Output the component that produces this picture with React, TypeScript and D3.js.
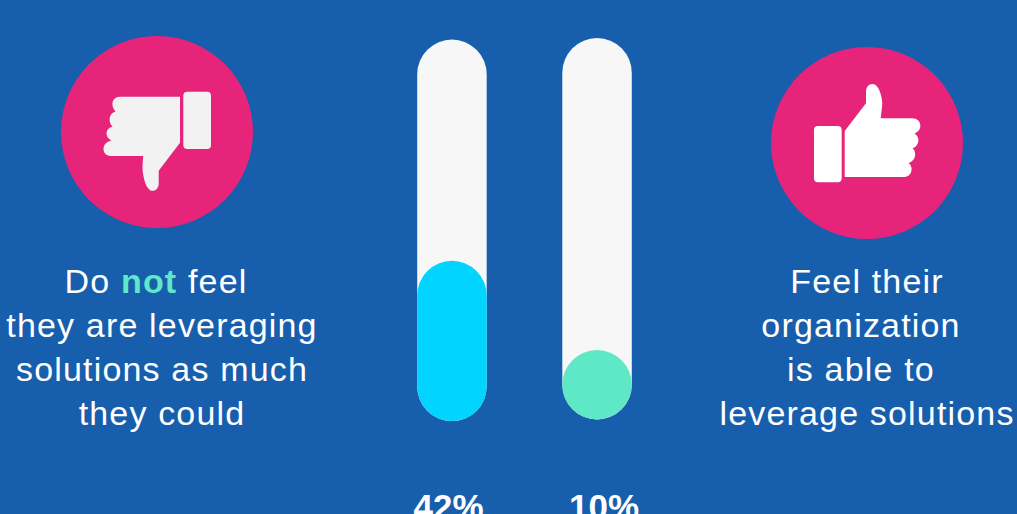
import React from "react";
import * as d3 from "d3";

const W = 1017, H = 514;
const categories = ["not", "able"];
const percents = [42, 10];
const percentLabels = ["42%", "10%"];
const fillColors = ["#00D4FF", "#5FE8C5"];
const leftLines = ["they are leveraging", "solutions as much", "they could"];
const rightLines = ["Feel their", "organization", "is able to", "leverage solutions"];

const FONT = "'Liberation Sans', Arial, sans-serif";

const thumbDown = d3.path();
thumbDown.moveTo(120, 96.7);
thumbDown.lineTo(180, 96.7);
thumbDown.lineTo(180, 142.7);
thumbDown.lineTo(158.7, 170.7);
thumbDown.lineTo(158.7, 183.5);
thumbDown.bezierCurveTo(158.7, 188, 156, 190.8, 152.5, 190.8);
thumbDown.bezierCurveTo(146, 190.8, 142.5, 176, 142.5, 166);
thumbDown.lineTo(143.2, 156);
thumbDown.lineTo(111, 156);
thumbDown.bezierCurveTo(101, 156, 101, 142, 111.5, 140.8);
thumbDown.bezierCurveTo(104.5, 137, 105, 128, 112.5, 126.8);
thumbDown.bezierCurveTo(108, 122, 108.5, 113.5, 115.5, 111.5);
thumbDown.bezierCurveTo(110, 105, 112, 96.7, 120, 96.7);
thumbDown.closePath();

const thumbUp = d3.path();
thumbUp.moveTo(844.7, 131);
thumbUp.lineTo(866, 103.3);
thumbUp.lineTo(866, 91.5);
thumbUp.bezierCurveTo(866, 87, 869, 84, 872.5, 84);
thumbUp.bezierCurveTo(879, 84, 882.3, 97, 882.3, 104);
thumbUp.lineTo(880.7, 118.3);
thumbUp.lineTo(912, 118.3);
thumbUp.bezierCurveTo(922.5, 118.3, 923, 131, 914.5, 133.5);
thumbUp.bezierCurveTo(920.5, 137, 919.5, 146, 912.5, 148.3);
thumbUp.bezierCurveTo(917, 152, 916, 161, 908.5, 163);
thumbUp.bezierCurveTo(914, 167, 912, 177, 904, 177);
thumbUp.lineTo(844.7, 177);
thumbUp.closePath();

export default function App() {
  const barWidth = 69.5;
  const trackHeight = 381.5;
  const trackTops = [39.6, 38];
  const trackLefts = [417.2, 562.3];
  const labelCenters = [448.5, 604];
  const leftCenters = [162, 162, 162];
  const rightCenters = [867, 861, 861, 867];
  const scale = d3.scaleLinear().domain([0, 100]).range([0, trackHeight]);
  const textStyle = { fontFamily: FONT, fontSize: 34, fill: "#fff", textAnchor: "middle" as const, letterSpacing: 1.17 };
  return (
    <svg width={W} height={H} viewBox={`0 0 ${W} ${H}`} style={{ position: "fixed", left: 0, top: 0, display: "block" }}>
      <rect width={W} height={H} fill="#175EAD" />

      <circle cx={157} cy={132} r={96} fill="#E6247A" />
      <path d={thumbDown.toString()} fill="#F2F2F2" />
      <rect x={183.3} y={91.7} width={27.7} height={57.3} rx={4} fill="#F2F2F2" />

      <circle cx={867} cy={143} r={96} fill="#E6247A" />
      <path d={thumbUp.toString()} fill="#FFFFFF" />
      <rect x={814} y={126} width={27.7} height={56.3} rx={4} fill="#FFFFFF" />

      {categories.map((c, i) => {
        const h = Math.max(barWidth, scale(percents[i]));
        const bottom = trackTops[i] + trackHeight;
        return (
          <g key={c}>
            <rect x={trackLefts[i]} y={trackTops[i]} width={barWidth} height={trackHeight} rx={barWidth / 2} fill="#F7F7F7" />
            <rect x={trackLefts[i]} y={bottom - h} width={barWidth} height={h} rx={barWidth / 2} fill={fillColors[i]} />
            <text x={labelCenters[i]} y={519} textAnchor="middle" fontFamily={FONT} fontSize={35} fontWeight={700} fill="#fff">
              {percentLabels[i]}
            </text>
          </g>
        );
      })}

      <text x={156} y={293} style={textStyle}>
        Do <tspan fontWeight={700} fill="#5FE8C5">not</tspan> feel
      </text>
      {leftLines.map((t, i) => (
        <text key={t} x={leftCenters[i]} y={337 + i * 44} style={textStyle}>{t}</text>
      ))}
      {rightLines.map((t, i) => (
        <text key={t} x={rightCenters[i]} y={293 + i * 44} style={textStyle}>{t}</text>
      ))}
    </svg>
  );
}
